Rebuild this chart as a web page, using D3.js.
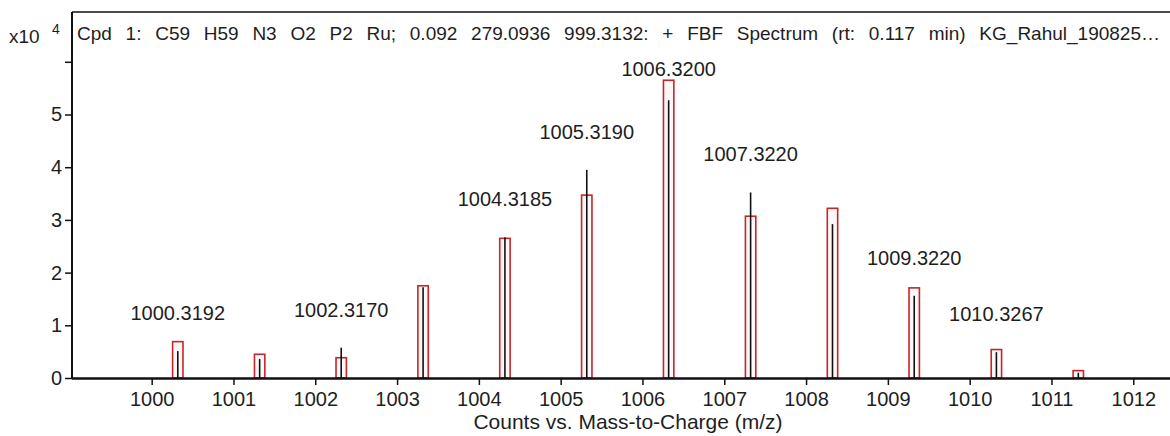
<!DOCTYPE html>
<html>
<head>
<meta charset="utf-8">
<script src="https://cdn.jsdelivr.net/npm/d3@7"></script>
<style>
  body { margin: 0; background: #fff; }
  svg { display: block; }
  text { font-family: "Liberation Sans", Arial, sans-serif; fill: #1e1e1e; }
</style>
</head>
<body>
<svg id="chart" width="1170" height="436"></svg>
<script>
// Isotope cluster: m/z of each peak, observed abundance and predicted pattern (x10^4 counts)
const peakMz = [1000.3192, 1001.3200, 1002.3170, 1003.3180, 1004.3185, 1005.3190,
                1006.3200, 1007.3220, 1008.3230, 1009.3220, 1010.3267, 1011.3280];
const measuredCounts = [0.51, 0.36, 0.575, 1.72, 2.67, 3.95, 5.27, 3.52, 2.92, 1.56, 0.49, 0.10];
const predictedCounts = [0.69, 0.45, 0.385, 1.75, 2.65, 3.47, 5.65, 3.07, 3.22, 1.71, 0.54, 0.14];
const peakLabels = ["1000.3192", "", "1002.3170", "", "1004.3185", "1005.3190",
                    "1006.3200", "1007.3220", "", "1009.3220", "1010.3267", ""];

const xTickValues = [1000, 1001, 1002, 1003, 1004, 1005, 1006, 1007, 1008, 1009, 1010, 1011, 1012];
const yTickValues = [0, 1, 2, 3, 4, 5, 6];
const yTickLabels = ["0", "1", "2", "3", "4", "5", ""];

const titleText = "Cpd 1: C59 H59 N3 O2 P2 Ru; 0.092 279.0936 999.3132: + FBF Spectrum (rt: 0.117 min) KG_Rahul_190825\u2026";
const xAxisTitle = "Counts vs. Mass-to-Charge (m/z)";

const svg = d3.select("#chart");
const plotLeft = 72, plotRight = 1170, plotTop = 12, plotBottom = 378;

const x = d3.scaleLinear().domain([999.026, 1012.449]).range([plotLeft, plotRight]);
const y = d3.scaleLinear().domain([0, 6.945]).range([plotBottom, plotTop]);

const peaks = peakMz.map((mz, i) => ({
  mz, measured: measuredCounts[i], predicted: predictedCounts[i], label: peakLabels[i]
}));

// x axis ticks and labels
const gx = svg.append("g")
  .attr("transform", `translate(0,${plotBottom})`)
  .call(d3.axisBottom(x).tickValues(xTickValues).tickSize(7).tickPadding(7)
        .tickFormat(d3.format("d")));
gx.select(".domain").remove();
gx.selectAll(".tick line").attr("stroke", "#111").attr("stroke-width", 1.5);
gx.selectAll(".tick text").attr("font-size", 20).attr("fill", "#1e1e1e")
  .style("font-family", '"Liberation Sans", Arial, sans-serif');

// y axis ticks and labels
const gy = svg.append("g")
  .attr("transform", `translate(${plotLeft},0)`)
  .call(d3.axisLeft(y).tickValues(yTickValues).tickSize(7).tickPadding(3)
        .tickFormat((d, i) => yTickLabels[i]));
gy.select(".domain").remove();
gy.selectAll(".tick line").attr("stroke", "#111").attr("stroke-width", 1.5);
gy.selectAll(".tick text").attr("font-size", 20).attr("fill", "#1e1e1e")
  .style("font-family", '"Liberation Sans", Arial, sans-serif');

// predicted isotope boxes
const boxHalf = 0.0635;
svg.append("g").selectAll("rect")
  .data(peaks)
  .join("rect")
  .attr("x", d => x(d.mz - boxHalf))
  .attr("width", d => x(d.mz + boxHalf) - x(d.mz - boxHalf))
  .attr("y", d => y(d.predicted))
  .attr("height", d => y(0) - y(d.predicted))
  .attr("fill", "rgba(235,150,150,0.08)")
  .attr("stroke", "#c4262b")
  .attr("stroke-width", 1.6);

// observed peaks as sticks
svg.append("g").selectAll("line")
  .data(peaks)
  .join("line")
  .attr("x1", d => x(d.mz)).attr("x2", d => x(d.mz))
  .attr("y1", y(0)).attr("y2", d => y(d.measured))
  .attr("stroke", "#111")
  .attr("stroke-width", 1.6);

// frame: left axis, top border, thick baseline
svg.append("line").attr("x1", plotLeft).attr("x2", plotLeft).attr("y1", plotTop).attr("y2", plotBottom + 1)
  .attr("stroke", "#111").attr("stroke-width", 2);
svg.append("line").attr("x1", plotLeft).attr("x2", plotRight).attr("y1", plotTop).attr("y2", plotTop)
  .attr("stroke", "#111").attr("stroke-width", 1.6);
svg.append("line").attr("x1", plotLeft).attr("x2", plotRight).attr("y1", plotBottom + 0.5).attr("y2", plotBottom + 0.5)
  .attr("stroke", "#111").attr("stroke-width", 2.6);

// m/z labels above the labelled peaks
svg.append("g").selectAll("text")
  .data(peaks.filter(d => d.label))
  .join("text")
  .attr("x", d => x(d.mz))
  .attr("y", d => Math.max(y(d.measured) - 38, 69) + 7)
  .attr("text-anchor", "middle")
  .attr("font-size", 20)
  .text(d => d.label);

// spectrum title, spread to the plot width
const title = svg.append("text")
  .attr("x", 77).attr("y", 39.5)
  .attr("font-size", 19)
  .text(titleText);
const gaps = titleText.split(" ").length - 1;
const natural = title.node().getComputedTextLength();
title.style("word-spacing", `${(1083 - natural) / gaps}px`);

// exponent marker
const expo = svg.append("text").attr("x", 9).attr("y", 43).attr("font-size", 19);
expo.append("tspan").text("x10");
expo.append("tspan").attr("x", 52).attr("y", 34).attr("font-size", 14).text("4");

// axis title
svg.append("text")
  .attr("x", 628).attr("y", 429)
  .attr("text-anchor", "middle")
  .attr("font-size", 21)
  .text(xAxisTitle);
</script>
</body>
</html>
